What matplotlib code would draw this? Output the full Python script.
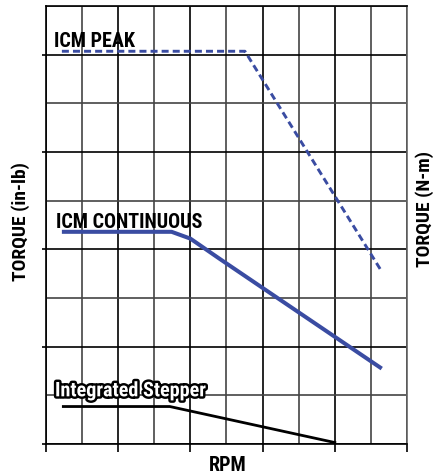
import matplotlib
matplotlib.use('Agg')
import matplotlib.pyplot as plt
import matplotlib.patheffects as pe
from matplotlib import font_manager as fm

# curves in grid units (x: 0-10 RPM cells, y: 0-9 torque cells)
peak_x = [0.44, 5.51, 9.27]
peak_y = [8.07, 8.07, 3.58]
cont_x = [0.44, 3.48, 4.0, 4.82, 9.3]
cont_y = [4.36, 4.36, 4.22, 3.80, 1.55]
step_x = [0.48, 3.43, 8.0]
step_y = [0.77, 0.77, 0.03]

blue = '#3a4ca2'

# look for a narrow bold face, otherwise fall back to condensed DejaVu
names = set(f.name for f in fm.fontManager.ttflist)
font = 'DejaVu Sans'
for cand in ['Liberation Sans Narrow', 'Roboto Condensed', 'Open Sans Condensed',
             'Noto Sans Condensed', 'DejaVu Sans Condensed']:
    if cand in names:
        font = cand
        break
fp = dict(family=font, fontweight='bold', fontstretch='condensed')

fig = plt.figure(figsize=(4.35, 4.77), dpi=100)
ax = fig.add_axes([46 / 435, 1 - 445 / 477, 361 / 435, 438 / 477])

ax.set_xlim(0, 10)
ax.set_ylim(0, 9)
ax.set_xticks(range(0, 11, 2))
ax.set_xticks(range(1, 10, 2), minor=True)
ax.set_yticks(range(0, 9, 2))
ax.set_yticks(range(1, 10, 2), minor=True)
ax.set_xticklabels([])
ax.set_yticklabels([])
ax.tick_params(axis='x', which='major', length=6, width=1.2, color='black')
ax.tick_params(axis='y', which='major', length=3, width=1.2, color='black')
ax.tick_params(which='minor', length=0)
ax.grid(True, which='major', color='black', linewidth=1.2)
ax.grid(True, which='minor', color='#444444', linewidth=1.2)
for s in ax.spines.values():
    s.set_linewidth(1.2)
ax.spines['right'].set_color('#666666')

ax.plot(peak_x, peak_y, color=blue, linewidth=2.1, dashes=(2.4, 1.4), zorder=3)
ax.plot(cont_x, cont_y, color=blue, linewidth=2.9, solid_capstyle='butt', zorder=3)
ax.plot(step_x, step_y, color='black', linewidth=2.0, zorder=3)

ax.text(0.22, 8.17, 'ICM PEAK', fontsize=14.5, va='baseline', ha='left', **fp)
ax.text(0.28, 4.46, 'ICM CONTINUOUS', fontsize=14.5, va='baseline', ha='left', **fp)
ax.text(0.25, 0.98, 'Integrated Stepper', fontsize=14.5, va='baseline', ha='left',
        color='white', path_effects=[pe.withStroke(linewidth=3.5, foreground='black')],
        zorder=4, **fp)

fig.text(21 / 435, 1 - 222 / 477, 'TORQUE (in-lb)', fontsize=14, rotation=90,
         ha='center', va='center', **fp)
fig.text(425 / 435, 1 - 209 / 477, 'TORQUE (N-m)', fontsize=14, rotation=90,
         ha='center', va='center', **fp)
fig.text(228 / 435, 2 / 477, 'RPM', fontsize=14.5, ha='center', va='bottom', **fp)

fig.savefig('out.png', dpi=100)
